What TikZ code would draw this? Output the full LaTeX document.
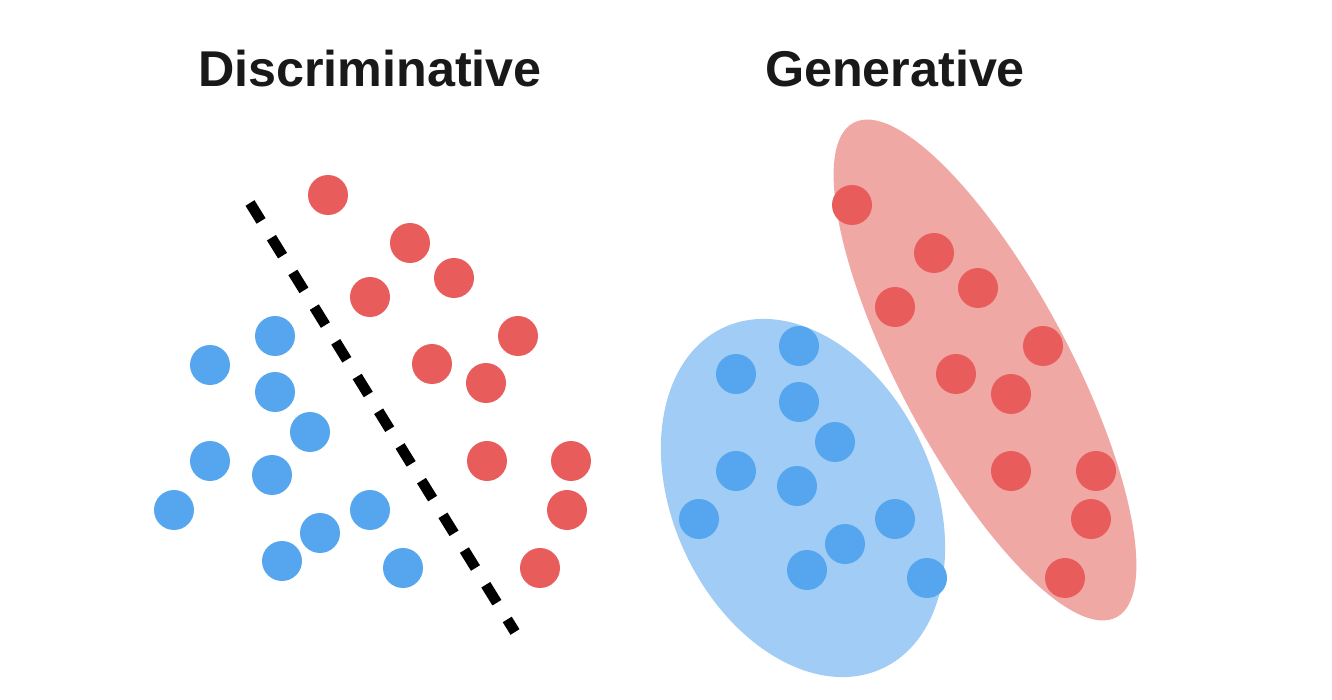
\documentclass[tikz,border=0pt]{standalone}
\usepackage{fontspec}
\setmainfont{Liberation Sans}
\begin{document}
\begin{tikzpicture}[x=0.01cm,y=-0.01cm,
  reddot/.style={fill=dotred},
  bluedot/.style={fill=dotblue},
  title/.style={font=\fontsize{14.3pt}{16pt}\selectfont\bfseries, text=black!90, anchor=base, inner sep=0pt}]
\definecolor{dotred}{RGB}{232,92,92}
\definecolor{dotblue}{RGB}{85,166,238}
\definecolor{ellred}{RGB}{240,168,165}
\definecolor{ellblue}{RGB}{160,204,245}
\useasboundingbox (0,0) rectangle (1332,700);
\fill[white] (0,0) rectangle (1332,700);
% titles
\node[title] (tdis) at (370,87) {Discriminative};
\node[title] (tgen) at (895,87) {Generative};
% separating line
\coordinate (ds) at (250,203);
\coordinate (de) at (515,632);
\draw[line width=3pt, dash pattern=on 6pt off 5.6pt, black] (ds) -- (de);
% left red dots
\foreach \p in {(328,195),(410,243),(454,278),(370,297),(518,336),(432,364),(486,383),(487,461),(571,461),(567,510),(540,568)}
  \fill[reddot] \p circle [radius=20];
% left blue dots
\foreach \p in {(275,336),(210,365),(275,392),(310,432),(210,461),(272,475),(174,510),(370,510),(320,533),(282,561),(403,568)}
  \fill[bluedot] \p circle [radius=20];
% ellipses
\fill[ellred, rotate around={28:(985,370)}] (985,370) ellipse [x radius=85, y radius=280];
\fill[ellblue, rotate around={25:(803,498)}] (803,498) ellipse [x radius=130, y radius=188];
% right red dots
\foreach \p in {(852,205),(934,253),(978,288),(895,307),(1043,346),(956,374),(1011,394),(1011,471),(1096,471),(1091,519),(1065,578)}
  \fill[reddot] \p circle [radius=20];
% right blue dots
\foreach \p in {(799,346),(736,374),(799,402),(835,442),(736,471),(797,486),(699,519),(895,519),(845,544),(807,570),(927,578)}
  \fill[bluedot] \p circle [radius=20];
\end{tikzpicture}
\end{document}
